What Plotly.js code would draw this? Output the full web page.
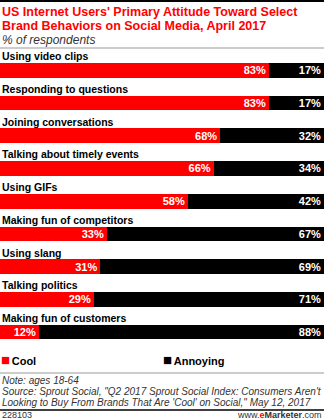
<!DOCTYPE html>
<html>
<head>
<meta charset="utf-8">
<script src="https://cdn.plot.ly/plotly-3.0.1.min.js"></script>
<style>html,body{margin:0;padding:0;background:#fff;}#chart{width:324px;height:419px;}</style>
</head>
<body>
<div id="chart"></div>
<script>
var categories = ["Using video clips","Responding to questions","Joining conversations","Talking about timely events","Using GIFs","Making fun of competitors","Using slang","Talking politics","Making fun of customers"];
var cool = [83,83,68,66,58,33,31,29,12];
var annoying = [17,17,32,34,42,67,69,71,88];
var seriesNames = ["Cool","Annoying"];
var colors = ["#ff0000","#000000"];

var F = "Liberation Sans, Arial, sans-serif";
var textFont = {family: F, size: 11, color: "#ffffff", weight: "bold"};

function barTrace(vals, name, color) {
  return {
    type: "bar", orientation: "h", name: name,
    y: categories, x: vals,
    marker: {color: color},
    width: 0.45,
    text: vals.map(function(v){return "<b>" + v + "%</b>";}),
    texttemplate: "%{text}",
    textposition: "inside", insidetextanchor: "end",
    textangle: 0, constraintext: "none",
    textfont: textFont,
    hoverinfo: "skip", showlegend: false
  };
}
var data = [barTrace(cool, seriesNames[0], colors[0]), barTrace(annoying, seriesNames[1], colors[1])];

var annotations = [];
categories.forEach(function(c){
  annotations.push({xref:"paper", x:0, yref:"y", y:c, yshift:14, xanchor:"left", yanchor:"middle",
    text:"<b>"+c+"</b>", showarrow:false, font:{family:F, size:10.5, color:"#000"}});
});
function pa(text, y, opts) {
  var a = {xref:"paper", yref:"paper", x:0, y:y, xanchor:"left", yanchor:"middle", text:text, showarrow:false, font:{family:F, size:10, color:"#333"}};
  for (var k in opts) a[k] = opts[k];
  annotations.push(a);
}
var H = 300, B = 354;
function py(px){ return (B - px) / H; }
var gap = "<span style='font-size:6px'> </span>";
pa("<b>US Internet Users' Primary Attitude Toward Select</b>", py(11.5), {font:{family:F, size:12.5, color:"#ff0000"}});
pa("<b>Brand Behaviors on Social Media, April 2017</b>", py(26), {font:{family:F, size:12.5, color:"#ff0000"}});
pa("<i>% of respondents</i>", py(40), {font:{family:F, size:12, color:"#333"}});
pa("<span style='color:"+colors[0]+";font-size:15px'>■</span>"+gap+"<b>"+seriesNames[0]+"</b>", py(359), {x:-0.004, font:{family:F, size:11, color:"#000"}});
pa("<span style='color:"+colors[1]+";font-size:15px'>■</span>"+gap+"<b>"+seriesNames[1]+"</b>", py(359), {x:0.496, font:{family:F, size:11, color:"#000"}});
pa("<i>Note: ages 18-64</i>", py(380));
pa("<i>Source: Sprout Social, \"Q2 2017 Sprout Social Index: Consumers Aren't</i>", py(391));
pa("<i>Looking to Buy From Brands That Are 'Cool' on Social,\" May 12, 2017</i>", py(402));
pa("228103", py(415), {font:{family:F, size:9, color:"#333"}});
pa("www.<b><span style='color:#ff0000'>e</span>Marketer</b>.com", py(415), {x:1, xanchor:"right", font:{family:F, size:9, color:"#333"}});

var shapes = [
  {type:"line", xref:"paper", yref:"paper", x0:0, x1:1, y0:py(1), y1:py(1), line:{color:"#000", width:2}},
  {type:"line", xref:"paper", yref:"paper", x0:0, x1:1, y0:py(48), y1:py(48), line:{color:"#999", width:1}},
  {type:"line", xref:"paper", yref:"paper", x0:0, x1:1, y0:py(373), y1:py(373), line:{color:"#999", width:1}},
  {type:"line", xref:"paper", yref:"paper", x0:0, x1:1, y0:py(410), y1:py(410), line:{color:"#000", width:1.5}}
];

var layout = {
  width: 324, height: 419,
  margin: {l:0, r:0, t:54, b:65, pad:0},
  barmode: "stack",
  paper_bgcolor: "#fff", plot_bgcolor: "#fff",
  xaxis: {range:[0,100], visible:false, fixedrange:true},
  yaxis: {autorange:"reversed", showticklabels:false, showgrid:false, zeroline:false, showline:false, ticks:"", fixedrange:true},
  showlegend: false,
  annotations: annotations,
  shapes: shapes,
  font: {family: F}
};
Plotly.newPlot("chart", data, layout, {displayModeBar:false, staticPlot:true});
</script>
</body>
</html>
